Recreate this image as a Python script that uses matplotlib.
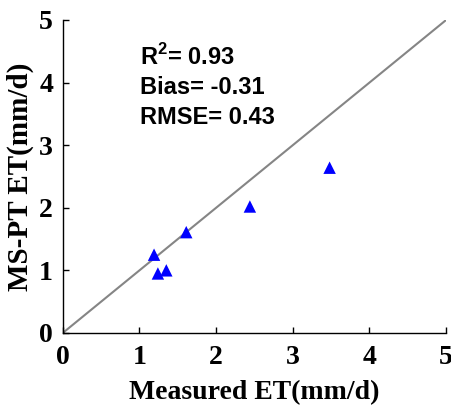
import matplotlib
matplotlib.use("Agg")
import matplotlib.pyplot as plt

plt.rcParams["mathtext.fontset"] = "custom"
plt.rcParams["mathtext.rm"] = "Liberation Sans:bold"
plt.rcParams["mathtext.bf"] = "Liberation Sans:bold"

# Measured vs modelled evapotranspiration (mm/d)
measured = [1.19, 1.24, 1.35, 1.61, 2.44, 3.48]
ms_pt = [1.25, 0.95, 1.00, 1.61, 2.02, 2.64]
ticks = [0, 1, 2, 3, 4, 5]
stats_text = ["R$^{\\mathbf{2}}$= 0.93", "Bias= -0.31", "RMSE= 0.43"]

fig = plt.figure(figsize=(4.52, 4.08), dpi=100)
ax = fig.add_axes([0.139, 0.184, 0.848, 0.767])

ax.plot([0, 5], [0, 5], color="#858585", lw=1.5, zorder=1)
ax.scatter(measured, ms_pt, marker="^", s=80, color="#0000ff", edgecolors="none", zorder=2)

ax.set_xlim(0, 5)
ax.set_ylim(0, 5)
ax.set_xticks(ticks)
ax.set_yticks(ticks)

serif_bold = dict(family="Liberation Serif", weight="bold")
ax.set_xticklabels([str(t) for t in ticks], fontsize=20, **serif_bold)
ax.set_yticklabels([str(t) for t in ticks], fontsize=20, **serif_bold)
ax.set_xlabel("Measured ET(mm/d)", fontsize=20, labelpad=7, **serif_bold)
ax.set_ylabel("MS-PT ET(mm/d)", fontsize=21, labelpad=4, **serif_bold)

ax.tick_params(axis="x", direction="in", length=4, width=1, pad=9)
ax.tick_params(axis="y", direction="in", length=4, width=1, pad=7)
for side in ("top", "right"):
    ax.spines[side].set_visible(False)
for side in ("left", "bottom"):
    ax.spines[side].set_linewidth(1)

for line, yfrac in zip(stats_text, [0.856, 0.764, 0.668]):
    ax.text(0.201, yfrac, line, transform=ax.transAxes, fontsize=17,
            family="Liberation Sans", weight="bold", va="baseline", ha="left")

fig.savefig("out.png", dpi=100)
